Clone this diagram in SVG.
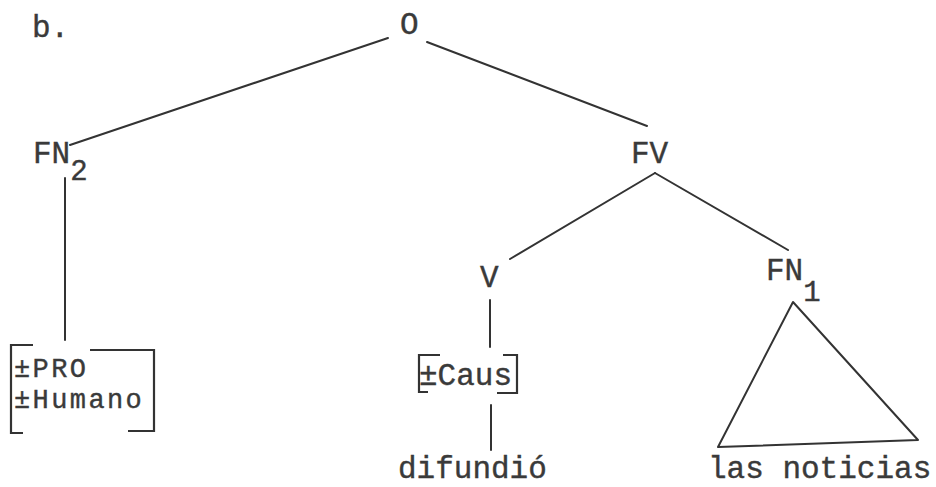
<svg xmlns="http://www.w3.org/2000/svg" width="936" height="487" viewBox="0 0 936 487">
<style>
text{font-family:"Liberation Mono","DejaVu Sans Mono",monospace;font-size:31px;fill:#3a3a3a;stroke:#3a3a3a;stroke-width:0.4}
.ln{stroke:#333;stroke-width:2;fill:none;stroke-linecap:round;stroke-linejoin:round}
.br{stroke:#333;stroke-width:2.2;fill:none}
.sub{font-size:29px}
.tight{font-size:27px;letter-spacing:2.4px}
</style>
<rect width="936" height="487" fill="#fff"/>
<text x="32" y="37">b.</text>
<g id="connectors">
<line class="ln" x1="388" y1="38" x2="70" y2="145"/>
<line class="ln" x1="427" y1="42" x2="647" y2="126"/>
<line class="ln" x1="65" y1="178" x2="65" y2="340"/>
<line class="ln" x1="655" y1="173" x2="510" y2="259"/>
<line class="ln" x1="655" y1="173" x2="788" y2="250"/>
<line class="ln" x1="490" y1="300" x2="490" y2="347"/>
<line class="ln" x1="491" y1="405" x2="491" y2="450"/>
</g>
<g id="node-O"><text x="400" y="34">O</text></g>
<g id="node-FN2"><text x="33" y="163">FN<tspan class="sub" dy="17">2</tspan></text></g>
<g id="node-FV"><text x="631" y="163">FV</text></g>
<g id="node-V"><text x="480" y="287">V</text></g>
<g id="node-FN1"><text x="766" y="280">FN<tspan class="sub" dy="21">1</tspan></text></g>
<g id="node-PRO">
<polyline class="br" points="33,345 11,345 11,433 23,433"/>
<polyline class="br" points="90,350 154,350 154,431 128,431"/>
<text class="tight" x="14" y="377">±PRO</text>
<text class="tight" x="14" y="408">±Humano</text>
</g>
<g id="node-Caus">
<polyline class="br" points="440,355 419,355 419,392 428,392"/>
<polyline class="br" points="503,355 517,355 517,393 497,393"/>
<text x="419" y="385">±Caus</text>
</g>
<g id="node-difundio"><text x="398" y="478">difundió</text></g>
<g id="node-noticias">
<polygon class="ln" points="793,302 718,447 918,440"/>
<text x="708" y="478">las noticias</text>
</g>
</svg>
